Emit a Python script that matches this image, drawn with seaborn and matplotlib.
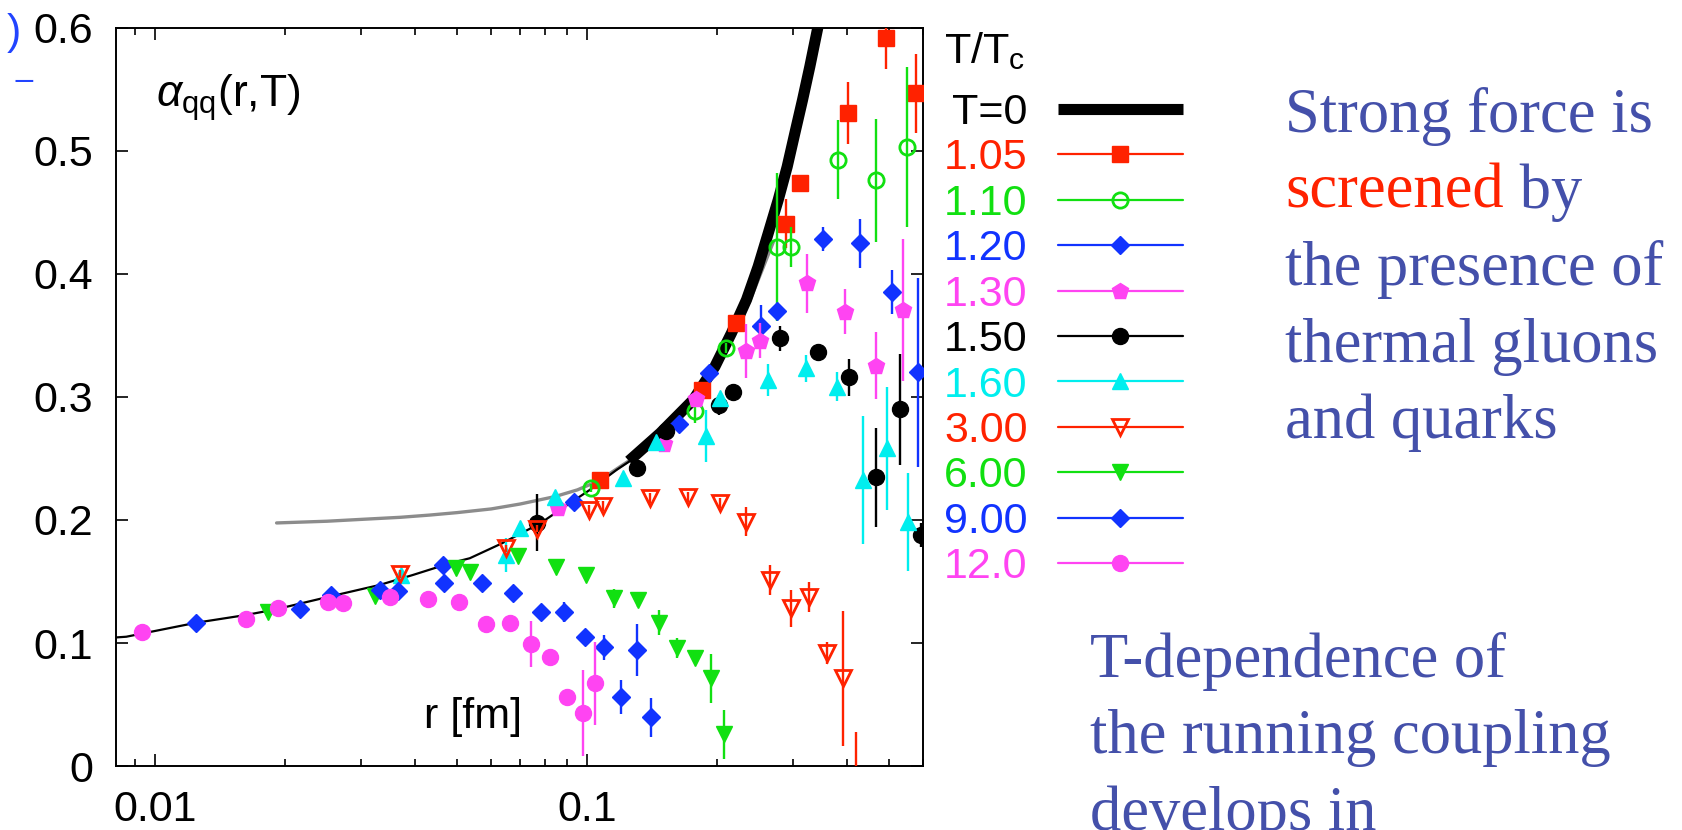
import matplotlib
matplotlib.use("Agg")
import matplotlib.pyplot as plt
import seaborn as sns
from matplotlib.lines import Line2D
from matplotlib.ticker import FixedLocator, LogLocator, NullFormatter, NullLocator, FuncFormatter

# ---------------- data ----------------
# T=0 curves
t0_thin_r = [0.0081, 0.00857, 0.01245, 0.01625, 0.0191, 0.0253, 0.0331, 0.0395, 0.0481,
             0.0535, 0.0635, 0.0779, 0.0912, 0.1014, 0.117, 0.1302]
t0_thin_a = [0.1045, 0.1051, 0.1165, 0.1228, 0.1275, 0.1377, 0.1472, 0.1553, 0.1648,
             0.1689, 0.181, 0.1973, 0.2136, 0.2244, 0.2407, 0.2515]
t0_thick_r = [0.125, 0.1476, 0.1761, 0.1977, 0.216, 0.234, 0.249, 0.2627, 0.2771,
              0.2907, 0.3028, 0.3155, 0.328, 0.342, 0.348]
t0_thick_a = [0.248, 0.2705, 0.2976, 0.3247, 0.352, 0.379, 0.406, 0.433, 0.4602,
              0.4872, 0.5144, 0.5415, 0.5686, 0.5997, 0.612]
grey_r = [0.0191, 0.025, 0.03, 0.037, 0.0432, 0.05, 0.06, 0.07, 0.0842, 0.095, 0.105,
          0.1126, 0.12, 0.13, 0.15, 0.18, 0.21, 0.24, 0.27]
grey_a = [0.1976, 0.1990, 0.2005, 0.2022, 0.204, 0.206, 0.209, 0.213, 0.219, 0.2245, 0.231,
          0.2375, 0.244, 0.252, 0.268, 0.298, 0.337, 0.381, 0.426]

r_105 = [0.107, 0.185, 0.221, 0.289, 0.312, 0.401, 0.492, 0.579]
a_105 = [0.2325, 0.306, 0.360, 0.441, 0.474, 0.531, 0.592, 0.547]
e_105 = [0.003, 0.003, 0.004, 0.020, 0.005, 0.025, 0.025, 0.032]

r_110 = [0.102, 0.178, 0.210, 0.275, 0.296, 0.382, 0.467, 0.551]
a_110 = [0.226, 0.289, 0.340, 0.422, 0.422, 0.493, 0.476, 0.5035]
e_110 = [0.003, 0.010, 0.004, 0.060, 0.016, 0.032, 0.050, 0.065]

r_120 = [0.0464, 0.0932, 0.1633, 0.1916, 0.2527, 0.2747, 0.351, 0.4286, 0.5073, 0.585]
a_120 = [0.1634, 0.2149, 0.278, 0.3198, 0.3577, 0.370, 0.4285, 0.425, 0.3856, 0.320]
e_120 = [0.002, 0.003, 0.003, 0.004, 0.017, 0.005, 0.010, 0.020, 0.018, 0.077]

r_130 = [0.0857, 0.1505, 0.1783, 0.2332, 0.2512, 0.3224, 0.3954, 0.467, 0.538]
a_130 = [0.2095, 0.2618, 0.298, 0.3376, 0.3458, 0.3924, 0.3694, 0.3255, 0.3707]
e_130 = [0.003, 0.003, 0.004, 0.022, 0.014, 0.024, 0.018, 0.027, 0.058]

r_150 = [0.0766, 0.1302, 0.1522, 0.2023, 0.2173, 0.2796, 0.342, 0.4046, 0.467, 0.530, 0.592]
a_150 = [0.1978, 0.242, 0.2726, 0.2935, 0.3043, 0.3477, 0.3363, 0.316, 0.2347, 0.290, 0.1878]
e_150 = [0.023, 0.003, 0.003, 0.008, 0.003, 0.010, 0.003, 0.015, 0.040, 0.045, 0.010]

r_160 = [0.0371, 0.065, 0.0698, 0.0845, 0.1212, 0.1443, 0.1884, 0.203, 0.2627, 0.3213,
         0.3796, 0.436, 0.494, 0.554]
a_160 = [0.155, 0.1715, 0.1932, 0.219, 0.234, 0.2637, 0.2683, 0.299, 0.3138, 0.3233,
         0.3084, 0.2325, 0.2585, 0.1986]
e_160 = [0.005, 0.014, 0.003, 0.003, 0.003, 0.003, 0.021, 0.003, 0.013, 0.011,
         0.012, 0.052, 0.050, 0.040]

r_300 = [0.0368, 0.065, 0.0766, 0.101, 0.109, 0.1397, 0.1714, 0.203, 0.2332, 0.265,
         0.2965, 0.3268, 0.3586, 0.392, 0.42]
a_300 = [0.156, 0.177, 0.193, 0.208, 0.2114, 0.218, 0.219, 0.214, 0.1986, 0.1512,
         0.1282, 0.1376, 0.0921, 0.0713, -0.012]
e_300 = [0.003, 0.003, 0.003, 0.004, 0.004, 0.004, 0.004, 0.004, 0.012, 0.012,
         0.015, 0.012, 0.009, 0.055, 0.040]

r_600 = [0.01824, 0.0322, 0.0498, 0.0537, 0.0692, 0.0846, 0.0997, 0.1153, 0.1313,
         0.1468, 0.1616, 0.1777, 0.1932, 0.2074]
a_600 = [0.1254, 0.138, 0.161, 0.1574, 0.1707, 0.162, 0.1553, 0.1363, 0.135,
         0.1165, 0.0957, 0.0876, 0.0713, 0.0258]
e_600 = [0.002, 0.002, 0.002, 0.002, 0.002, 0.002, 0.002, 0.008, 0.006,
         0.010, 0.008, 0.004, 0.020, 0.020]

r_900 = [0.01245, 0.0216, 0.0255, 0.0331, 0.0365, 0.0467, 0.0571, 0.0674, 0.0781,
         0.0883, 0.0988, 0.1093, 0.1197, 0.1302, 0.141]
a_900 = [0.116, 0.1274, 0.139, 0.143, 0.1425, 0.149, 0.1485, 0.1404, 0.1254,
         0.1254, 0.1051, 0.0965, 0.0563, 0.0943, 0.0396]
e_900 = [0.002, 0.002, 0.002, 0.002, 0.002, 0.002, 0.002, 0.002, 0.003,
         0.008, 0.003, 0.010, 0.014, 0.021, 0.016]

r_1200 = [0.00933, 0.01625, 0.01923, 0.0251, 0.0272, 0.0349, 0.0428, 0.0505, 0.0583,
          0.0662, 0.0743, 0.082, 0.0899, 0.0979, 0.1042]
a_1200 = [0.1092, 0.1193, 0.1282, 0.1336, 0.1328, 0.1376, 0.1358, 0.1331, 0.1152,
          0.1165, 0.0992, 0.0889, 0.0563, 0.0428, 0.0672]
e_1200 = [0.002, 0.002, 0.002, 0.002, 0.002, 0.002, 0.002, 0.002, 0.002,
          0.002, 0.019, 0.003, 0.003, 0.035, 0.034]

labels = ["1.05", "1.10", "1.20", "1.30", "1.50", "1.60", "3.00", "6.00", "9.00", "12.0"]
y_ticks = [0, 0.1, 0.2, 0.3, 0.4, 0.5, 0.6]
x_ticks = [0.01, 0.1]
x_ticklabels = ["0.01", "0.1"]

text_block1 = ["Strong force is", "screened", " by", "the presence of", "thermal gluons", "and quarks"]
text_block2 = ["T-dependence of", "the running coupling", "develops in"]

# ---------------- styles ----------------
RED = "#FF2200"
GREEN = "#11E011"
BLUE = "#1133FF"
MAG = "#FF44F2"
CYAN = "#00EEEE"
BLK = "#000000"
TXTBLUE = "#4450AA"

series = [
    (r_105, a_105, e_105, RED, "s", True, 12),
    (r_110, a_110, e_110, GREEN, "o", False, 11),
    (r_120, a_120, e_120, BLUE, "D", True, 9),
    (r_130, a_130, e_130, MAG, "p", True, 12),
    (r_150, a_150, e_150, BLK, "o", True, 11.5),
    (r_160, a_160, e_160, CYAN, "^", True, 11),
    (r_300, a_300, e_300, RED, "v", False, 11),
    (r_600, a_600, e_600, GREEN, "v", True, 11),
    (r_900, a_900, e_900, BLUE, "D", True, 9),
    (r_1200, a_1200, e_1200, MAG, "o", True, 11.5),
]

sns.set_theme(style="ticks", rc={
    "axes.edgecolor": "black", "xtick.color": "black", "ytick.color": "black",
    "text.color": "black", "axes.labelcolor": "black", "axes.linewidth": 1.4,
})
plt.rcParams["font.family"] = ["Liberation Sans", "DejaVu Sans"]
plt.rcParams["mathtext.fontset"] = "custom"
plt.rcParams["mathtext.rm"] = "Liberation Sans"
plt.rcParams["mathtext.it"] = "Liberation Sans:italic"

fig = plt.figure(figsize=(16.82, 8.30), dpi=100)
fig.patch.set_facecolor("white")
ax = fig.add_axes([0.0688, 0.0771, 0.4800, 0.8892])
ax.set_facecolor("white")
ax.set_xscale("log")

# T=0 curves
sns.lineplot(x=grey_r, y=grey_a, color="#8c8c8c", lw=2.4, ax=ax, sort=False, estimator=None, zorder=2)
sns.lineplot(x=t0_thin_r, y=t0_thin_a, color="black", lw=1.6, ax=ax, sort=False, estimator=None, zorder=3)
sns.lineplot(x=t0_thick_r, y=t0_thick_a, color="black", lw=8.0, ax=ax, sort=False, estimator=None,
             zorder=3, solid_capstyle="butt")

# data series
z = 5
for r, a, e, c, m, filled, ms in series:
    ax.errorbar(r, a, yerr=e, fmt=m, color=c, ms=ms,
                mfc=c if filled else "none", mec=c, mew=2.0 if not filled else 1.0,
                elinewidth=1.7, capsize=0, ls="none", zorder=z)
    z += 0.1

# axes
ax.set_xlim(0.0081, 0.60)
ax.set_ylim(0, 0.6)
ax.yaxis.set_major_locator(FixedLocator(y_ticks))
ax.yaxis.set_major_formatter(FuncFormatter(lambda v, p: "%g" % v))
ax.yaxis.set_minor_locator(NullLocator())
ax.xaxis.set_major_locator(FixedLocator(x_ticks))
ax.set_xticklabels(x_ticklabels)
ax.xaxis.set_minor_locator(LogLocator(base=10, subs=[2, 3, 4, 5, 6, 7, 8, 9]))
ax.xaxis.set_minor_formatter(NullFormatter())
ax.tick_params(which="major", direction="in", length=8.5, width=1.2, top=True, right=True,
               labelsize=31)
ax.tick_params(axis="y", which="major", pad=16)
ax.tick_params(axis="x", which="major", pad=17)
ax.tick_params(which="minor", direction="in", length=5, width=1.2, top=True, right=True)
for s in ax.spines.values():
    s.set_linewidth(1.4)
    s.set_color("black")
ax.set_xlabel("")
ax.set_ylabel("")

ax.text(0.050, 0.893, r"$\alpha_{\rm qq}$(r,T)", transform=ax.transAxes, fontsize=32,
        ha="left", va="baseline")
ax.text(0.382, 0.0515, "r [fm]", transform=ax.transAxes, fontsize=31, ha="left", va="baseline")

# legend
handles = [Line2D([], [], color="black", lw=8.0, solid_capstyle="butt")]
for r, a, e, c, m, filled, ms in series:
    handles.append(Line2D([], [], color=c, lw=1.6, marker=m, ms=ms,
                          mfc=c if filled else "none", mec=c, mew=2.0 if not filled else 1.0))
leg = ax.legend(handles, ["T=0"] + labels, title=r"T/T$_{\rm c}$", loc="upper left",
                bbox_to_anchor=(944 / 1682, 1 - 30 / 830), bbox_transform=fig.transFigure,
                frameon=False, markerfirst=False, fontsize=31, title_fontsize=31,
                handlelength=2.9, handletextpad=0.7, labelspacing=0.127, borderpad=0,
                borderaxespad=0, alignment="left", numpoints=1)
leg._legend_box.sep = 15.0
cols = ["black", RED, GREEN, BLUE, MAG, BLK, CYAN, RED, GREEN, BLUE, MAG]
for t, c in zip(leg.get_texts(), cols):
    t.set_color(c)

# side text
serif = ["Liberation Serif", "DejaVu Serif"]
fs1 = 45
x1 = 1285 / 1682
base1 = [132, 208, 285, 362, 438]
fig.text(x1, 1 - base1[0] / 830, text_block1[0], fontsize=fs1, family=serif, color=TXTBLUE, va="baseline")
t_scr = fig.text(x1, 1 - base1[1] / 830, text_block1[1], fontsize=fs1, family=serif, color=RED, va="baseline")
ax.annotate(text_block1[2], xy=(1, 0), xycoords=t_scr, fontsize=fs1, family=serif,
            color=TXTBLUE, va="bottom", ha="left", annotation_clip=False)
for i, line in enumerate(text_block1[3:]):
    fig.text(x1, 1 - base1[i + 2] / 830, line, fontsize=fs1, family=serif, color=TXTBLUE, va="baseline")

x2 = 1090 / 1682
base2 = [677, 753, 830]
for i, line in enumerate(text_block2):
    fig.text(x2, 1 - base2[i] / 830, line, fontsize=fs1, family=serif, color=TXTBLUE, va="baseline")

# slide artefacts at the top-left corner
fig.text(0.004, 1 - 33 / 830, ")", fontsize=31, color="#2244FF", va="center", ha="left")
fig.text(0.009, 1 - 76 / 830, "_", fontsize=22, color="#2244FF", va="baseline", ha="left")

fig.savefig("out.png", dpi=100, facecolor="white")
